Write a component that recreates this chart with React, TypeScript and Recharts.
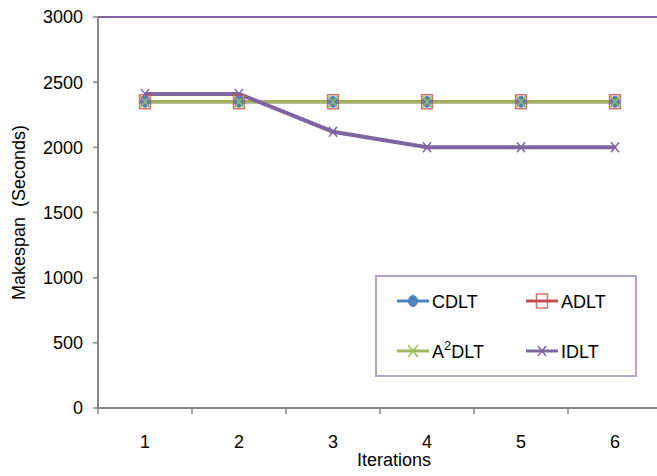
import { LineChart, Line, XAxis, YAxis, ReferenceLine, Legend } from 'recharts';

const iterations = [1, 2, 3, 4, 5, 6];
const cdlt = [2350, 2350, 2350, 2350, 2350, 2350];
const adlt = [2350, 2350, 2350, 2350, 2350, 2350];
const a2dlt = [2350, 2350, 2350, 2350, 2350, 2350];
const idlt = [2410, 2410, 2120, 2000, 2000, 2000];
const yTicks = [0, 500, 1000, 1500, 2000, 2500, 3000];

const FONT = '"Liberation Sans", Arial, sans-serif';
const GRAY = '#868686';
const BLUE = '#4f81bd';
const RED = '#c0504d';
const GREEN = '#9bbb59';
const PURPLE = '#8064a2';

const CHART_W = 665;
const CHART_H = 476;
const MARGIN = { top: 17, right: 3, bottom: 0, left: 0 };
const Y_W = 98;
const PLOT_W = CHART_W - MARGIN.left - MARGIN.right - Y_W;
const BAND_HALF = PLOT_W / (iterations.length * 2);

const data = iterations.map((it, i) => ({
  it,
  cdlt: cdlt[i],
  adlt: adlt[i],
  a2dlt: a2dlt[i],
  idlt: idlt[i],
}));

// marker shapes, centred on (cx, cy)
const Circle = ({ cx, cy }: any) => <ellipse cx={cx} cy={cy} rx={4.5} ry={5.5} fill={BLUE} stroke={BLUE} />;
const Square = ({ cx, cy }: any) => (
  <rect x={cx - 5.5} y={cy - 7} width={11} height={14} fill="none" stroke={RED} strokeWidth={1.5} opacity={0.8} />
);
const Star = ({ cx, cy }: any) => (
  <g stroke={GREEN} strokeWidth={1.5}>
    <line x1={cx - 5} y1={cy - 6} x2={cx + 5} y2={cy + 6} />
    <line x1={cx - 5} y1={cy + 6} x2={cx + 5} y2={cy - 6} />
  </g>
);
const Cross = ({ cx, cy }: any) => (
  <g stroke={PURPLE} strokeWidth={1.5}>
    <line x1={cx - 4} y1={cy - 5} x2={cx + 4} y2={cy + 5} />
    <line x1={cx - 4} y1={cy + 5} x2={cx + 4} y2={cy - 5} />
  </g>
);

const dotFn = (Shape: any) => (p: any) => <Shape key={`d-${p.index}`} cx={p.cx} cy={p.cy} />;

const XTick = ({ x, y, payload }: any) => (
  <g>
    <line x1={x - BAND_HALF} y1={y} x2={x - BAND_HALF} y2={y + 6} stroke={GRAY} strokeWidth={1.5} />
    <text x={x} y={y + 40} textAnchor="middle" fontSize={18} fontFamily={FONT} fill="#000">
      {payload.value}
    </text>
  </g>
);

const legendItems = [
  { name: 'CDLT', color: BLUE, Shape: Circle },
  { name: 'ADLT', color: RED, Shape: Square },
  { name: 'A2DLT', color: GREEN, Shape: Star },
  { name: 'IDLT', color: PURPLE, Shape: Cross },
];

const LegendBox = () => (
  <svg width={262} height={102} style={{ display: 'block' }}>
    <rect x={1} y={1} width={260} height={100} fill="#fff" stroke="#b3a2c7" strokeWidth={2} />
    {legendItems.map((item, i) => {
      const lx = i % 2 === 0 ? 22 : 151;
      const ly = i < 2 ? 26 : 76;
      const Shape = item.Shape;
      return (
        <g key={item.name}>
          <line x1={lx} y1={ly} x2={lx + 32} y2={ly} stroke={item.color} strokeWidth={3} />
          <Shape cx={lx + 16} cy={ly} />
          <text x={lx + 35} y={ly + 7} fontSize={18} fontFamily={FONT} fill="#000">
            {item.name === 'A2DLT' ? (
              <>
                A<tspan dy={-8} fontSize={13}>2</tspan>
                <tspan dy={8}>DLT</tspan>
              </>
            ) : (
              item.name
            )}
          </text>
        </g>
      );
    })}
  </svg>
);

export default function App() {
  return (
    <div style={{ position: 'absolute', left: 0, top: 0, width: 657, height: 476, overflow: 'hidden', background: '#fff' }}>
      <LineChart width={CHART_W} height={CHART_H} data={data} margin={MARGIN}>
        <XAxis
          dataKey="it"
          type="number"
          domain={[0.5, 6.5]}
          ticks={iterations}
          interval={0}
          height={68}
          tickLine={false}
          tickSize={0}
          tickMargin={0}
          axisLine={{ stroke: GRAY, strokeWidth: 2 }}
          tick={<XTick />}
          label={({ viewBox }: any) => (
            <text
              x={viewBox.x + viewBox.width / 2 + 14}
              y={viewBox.y + 58}
              textAnchor="middle"
              fontSize={18}
              fontFamily={FONT}
              fill="#000"
            >
              Iterations
            </text>
          )}
        />
        <YAxis
          width={Y_W}
          domain={[0, 3000]}
          ticks={yTicks}
          interval={0}
          tickSize={5}
          tickMargin={10}
          tickLine={{ stroke: GRAY, strokeWidth: 1.5 }}
          axisLine={{ stroke: GRAY, strokeWidth: 2 }}
          tick={{ fontSize: 18, fontFamily: FONT, fill: '#000' }}
          label={({ viewBox }: any) => {
            const cx = viewBox.x + 19;
            const cy = viewBox.y + viewBox.height / 2;
            return (
              <text
                x={cx}
                y={cy}
                transform={`rotate(-90 ${cx} ${cy})`}
                textAnchor="middle"
                dominantBaseline="central"
                fontSize={18}
                fontFamily={FONT}
                fill="#000"
              >
                {'Makespan\u00a0\u00a0(Seconds)'}
              </text>
            );
          }}
        />
        <ReferenceLine y={3000} stroke={PURPLE} strokeWidth={2} />
        <Line dataKey="cdlt" stroke={BLUE} strokeWidth={3} dot={dotFn(Circle)} activeDot={false} isAnimationActive={false} />
        <Line dataKey="adlt" stroke={RED} strokeWidth={3} dot={dotFn(Square)} activeDot={false} isAnimationActive={false} />
        <Line dataKey="a2dlt" stroke={GREEN} strokeWidth={3} dot={dotFn(Star)} activeDot={false} isAnimationActive={false} />
        <Line dataKey="idlt" stroke={PURPLE} strokeWidth={4} dot={dotFn(Cross)} activeDot={false} isAnimationActive={false} />
        <Legend
          layout="horizontal"
          verticalAlign="middle"
          align="center"
          content={() => <LegendBox />}
          wrapperStyle={{ position: 'absolute', left: 375, top: 275, width: 262, height: 102 }}
        />
      </LineChart>
    </div>
  );
}
